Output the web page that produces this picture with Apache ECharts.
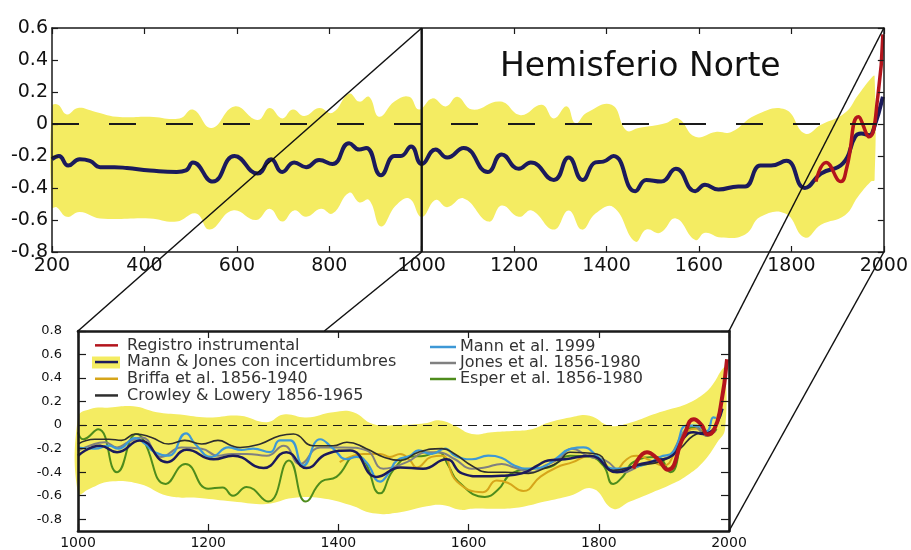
<!DOCTYPE html>
<html><head><meta charset="utf-8">
<script src="https://cdn.jsdelivr.net/npm/echarts@6/dist/echarts.min.js"></script>
<style>html,body{margin:0;padding:0;background:#fff}#c{width:911px;height:550px}</style>
</head><body><div id="c"></div>
<script>
// ---------- DATA ----------
const titleText = 'Hemisferio Norte';
const yTicksBottom = [-0.8, -0.6, -0.4, -0.2, 0, 0.2, 0.4, 0.6, 0.8];

// Top panel (200-2000): Mann & Jones reconstruction
const mjTopYears = [200,215,235,260,282,304,335,362,412,470,490,505,548,595,645,674,698,724,750,778,807,843,865,880,912,941,955,977,1000,1030,1055,1091,1143,1173,1210,1236,1286,1318,1348,1376,1393,1415,1462,1486,1518,1550,1592,1613,1642,1685,1700,1733,1756,1789,1829,1864,1912,1938,1951,1969,1977,1998];
const mjTopVals  = [-0.22,-0.20,-0.26,-0.22,-0.23,-0.27,-0.27,-0.275,-0.29,-0.30,-0.29,-0.24,-0.36,-0.20,-0.31,-0.22,-0.30,-0.24,-0.27,-0.225,-0.25,-0.12,-0.16,-0.15,-0.32,-0.20,-0.20,-0.14,-0.25,-0.16,-0.21,-0.15,-0.30,-0.19,-0.28,-0.24,-0.35,-0.21,-0.35,-0.24,-0.235,-0.20,-0.42,-0.35,-0.36,-0.28,-0.42,-0.38,-0.41,-0.39,-0.39,-0.26,-0.26,-0.23,-0.40,-0.31,-0.245,-0.08,-0.06,-0.07,-0.04,0.17];
const instTopYears = [1853,1875,1907,1920,1945,1968,1987,1998];
const instTopVals  = [-0.36,-0.24,-0.36,-0.27,0.045,-0.08,0.17,0.56];
const bandTopUpYears = [200,213,232,256,289,340,412,476,505,545,595,645,671,698,721,746,778,807,843,865,886,908,941,973,994,1023,1052,1077,1109,1171,1214,1260,1286,1314,1333,1357,1411,1443,1469,1527,1555,1592,1636,1670,1722,1787,1829,1864,1916,1944,1972,1980];
const bandTopUpVals  = [0.11,0.12,0.06,0.10,0.08,0.045,0.045,0.035,0.09,-0.025,0.11,0.025,0.10,0.035,0.09,0.05,0.10,0.07,0.19,0.14,0.17,0.045,0.14,0.17,0.09,0.16,0.11,0.17,0.09,0.14,0.055,0.12,0.035,0.11,0.005,0.07,0.12,-0.04,-0.025,0.005,0.035,-0.08,-0.05,-0.05,0.055,0.09,-0.06,-0.005,0.07,0.18,0.285,0.30];
const bandTopLoYears = [200,210,232,260,304,412,470,512,541,591,642,671,698,724,750,782,807,843,865,886,912,944,973,1000,1030,1055,1091,1145,1173,1210,1238,1286,1318,1347,1376,1415,1462,1486,1516,1550,1592,1613,1648,1700,1733,1787,1829,1864,1916,1944,1972,1980];
const bandTopLoVals  = [-0.52,-0.52,-0.58,-0.55,-0.59,-0.59,-0.61,-0.56,-0.66,-0.54,-0.60,-0.53,-0.61,-0.54,-0.58,-0.53,-0.56,-0.43,-0.49,-0.475,-0.64,-0.51,-0.465,-0.58,-0.475,-0.52,-0.465,-0.61,-0.51,-0.58,-0.54,-0.66,-0.54,-0.66,-0.56,-0.52,-0.735,-0.66,-0.68,-0.59,-0.725,-0.68,-0.71,-0.69,-0.58,-0.56,-0.71,-0.63,-0.57,-0.455,-0.36,-0.35];

// Bottom panel (1000-2000)
const bandBotUpYears = [1000,1018,1049,1085,1121,1157,1198,1249,1290,1316,1351,1392,1423,1453,1495,1533,1556,1579,1605,1636,1667,1697,1722,1756,1786,1817,1848,1883,1909,1935,1960,1975,1989,1994];
const bandBotUpVals  = [0.065,0.135,0.15,0.16,0.11,0.09,0.065,0.08,0.025,0.09,0.065,0.11,0.11,0.01,0.0,0.015,0.04,-0.005,-0.075,-0.06,-0.05,-0.035,0.02,0.065,0.08,-0.005,0.02,0.09,0.135,0.18,0.26,0.345,0.47,0.49];
const bandBotLoYears = [1000,1018,1049,1095,1137,1187,1238,1290,1330,1372,1418,1453,1495,1536,1560,1587,1605,1651,1682,1717,1756,1791,1822,1848,1883,1909,1935,1960,1982,1994];
const bandBotLoVals  = [-0.58,-0.54,-0.48,-0.50,-0.60,-0.62,-0.65,-0.67,-0.62,-0.62,-0.68,-0.75,-0.74,-0.69,-0.68,-0.72,-0.71,-0.71,-0.695,-0.65,-0.60,-0.54,-0.71,-0.65,-0.57,-0.51,-0.43,-0.315,-0.145,-0.03];

const mjBotYears = [1000,1034,1060,1095,1137,1167,1208,1238,1285,1320,1351,1382,1418,1459,1495,1530,1566,1590,1620,1651,1682,1707,1722,1748,1786,1828,1858,1889,1914,1929,1945,1960,1971,1982,1990];
const mjBotVals  = [-0.26,-0.175,-0.23,-0.13,-0.315,-0.21,-0.29,-0.26,-0.365,-0.23,-0.365,-0.245,-0.215,-0.44,-0.36,-0.37,-0.29,-0.41,-0.435,-0.43,-0.41,-0.34,-0.30,-0.29,-0.26,-0.40,-0.34,-0.30,-0.255,-0.12,-0.06,-0.075,-0.06,0.02,0.14];
const mannYears = [1000,1026,1047,1062,1088,1103,1118,1139,1166,1180,1205,1231,1251,1269,1295,1310,1326,1346,1372,1392,1413,1428,1443,1464,1477,1490,1510,1523,1543,1564,1579,1605,1630,1651,1671,1692,1712,1733,1758,1776,1797,1822,1848,1874,1894,1914,1935,1950,1966,1976,1980];
const mannVals  = [-0.19,-0.20,-0.175,-0.20,-0.11,-0.16,-0.23,-0.26,-0.07,-0.16,-0.27,-0.19,-0.21,-0.20,-0.23,-0.13,-0.13,-0.345,-0.12,-0.20,-0.29,-0.27,-0.315,-0.48,-0.41,-0.30,-0.26,-0.215,-0.245,-0.20,-0.26,-0.29,-0.26,-0.28,-0.345,-0.37,-0.36,-0.29,-0.20,-0.19,-0.26,-0.37,-0.36,-0.33,-0.27,-0.23,-0.005,-0.005,-0.05,0.065,0.06];
const jonesYears = [1000,1020,1041,1060,1077,1098,1128,1159,1190,1215,1236,1259,1290,1316,1341,1372,1408,1443,1469,1505,1536,1553,1579,1605,1625,1651,1670,1697,1717,1738,1758,1786,1810,1838,1863,1889,1909,1930,1945,1966,1976,1980];
const jonesVals  = [-0.22,-0.17,-0.145,-0.19,-0.145,-0.105,-0.27,-0.19,-0.20,-0.26,-0.245,-0.245,-0.26,-0.175,-0.33,-0.19,-0.19,-0.215,-0.37,-0.315,-0.23,-0.23,-0.29,-0.37,-0.36,-0.33,-0.36,-0.40,-0.345,-0.29,-0.20,-0.27,-0.30,-0.40,-0.345,-0.30,-0.26,-0.06,-0.005,-0.09,-0.06,-0.05];
const crowleyYears = [1000,1026,1047,1067,1088,1113,1139,1164,1190,1215,1236,1249,1280,1310,1331,1361,1392,1413,1443,1469,1495,1523,1559,1580,1605,1630,1656,1692,1715,1738,1756,1797,1822,1858,1899,1925,1945,1965];
const crowleyVals  = [-0.16,-0.12,-0.12,-0.13,-0.075,-0.105,-0.16,-0.13,-0.16,-0.13,-0.175,-0.19,-0.16,-0.09,-0.075,-0.175,-0.175,-0.145,-0.20,-0.27,-0.30,-0.23,-0.20,-0.25,-0.345,-0.40,-0.40,-0.41,-0.37,-0.315,-0.23,-0.245,-0.385,-0.345,-0.30,-0.20,-0.09,-0.06];
const esperYears = [1000,1008,1031,1060,1090,1100,1135,1165,1200,1222,1238,1259,1292,1324,1350,1374,1397,1428,1440,1464,1484,1510,1533,1553,1569,1584,1625,1645,1666,1697,1722,1756,1786,1807,1822,1838,1853,1889,1910,1935,1950,1966,1981];
const esperVals  = [-0.06,-0.12,-0.035,-0.40,-0.075,-0.12,-0.50,-0.33,-0.54,-0.53,-0.60,-0.525,-0.65,-0.30,-0.65,-0.48,-0.44,-0.26,-0.30,-0.58,-0.385,-0.27,-0.26,-0.23,-0.345,-0.48,-0.61,-0.55,-0.41,-0.37,-0.36,-0.26,-0.27,-0.345,-0.50,-0.43,-0.315,-0.27,-0.40,-0.035,-0.02,-0.09,-0.035];
const briffaYears = [1402,1418,1438,1464,1479,1495,1510,1520,1543,1559,1582,1622,1643,1660,1684,1710,1735,1760,1786,1807,1822,1843,1858,1879,1899,1920,1935,1950,1960];
const briffaVals  = [-0.315,-0.27,-0.245,-0.245,-0.27,-0.245,-0.30,-0.36,-0.27,-0.26,-0.48,-0.57,-0.47,-0.49,-0.56,-0.44,-0.36,-0.315,-0.26,-0.315,-0.40,-0.29,-0.26,-0.30,-0.345,-0.20,-0.06,-0.03,-0.08];
const instBotYears = [1853,1874,1889,1906,1930,1946,1958,1967,1977,1987,1997];
const instBotVals  = [-0.37,-0.23,-0.28,-0.38,-0.10,0.05,0.00,-0.08,-0.04,0.15,0.56];

const legendCol1 = ['Registro instrumental','Mann & Jones con incertidumbres','Briffa et al. 1856-1940','Crowley & Lowery 1856-1965'];
const legendCol2 = ['Mann et al. 1999','Jones et al. 1856-1980','Esper et al. 1856-1980'];

// ---------- STYLE ----------
const FONT = 'DejaVu Sans';
const YELLOW = '#f4ec62';
const NAVY = '#1b1a5c';
const RED = '#b3141c';
const C = {blue:'#3d98d6', gray:'#808080', green:'#4e8c1c', gold:'#d6a51a', dark:'#2e2e2e'};

const pairs = (xs, ys) => xs.map((x, i) => [x, ys[i]]);
const fmt = v => { const r = Math.round(v * 10) / 10; return r === 0 ? '0' : String(r); };
const fmtYear = v => String(Math.round(v));

function band(upX, upY, loX, loY) {
  return function (params, api) {
    const pts = [];
    for (let i = 0; i < upX.length; i++) pts.push(api.coord([upX[i], upY[i]]));
    for (let i = loX.length - 1; i >= 0; i--) pts.push(api.coord([loX[i], loY[i]]));
    return {type: 'polygon', shape: {points: pts, smooth: 0.45}, style: {fill: YELLOW}, silent: true};
  };
}

function xAx(grid, min, max, pos, showLabel, fs, lw, tl) {
  return {type: 'value', gridIndex: grid, min: min, max: max, interval: 200, position: pos, z: 5,
    axisLine: {onZero: false, lineStyle: {color: '#1a1a1a', width: lw}},
    axisTick: {inside: true, length: tl, lineStyle: {color: '#1a1a1a', width: 1.2}},
    axisLabel: {show: showLabel, fontFamily: FONT, fontSize: fs, color: '#111', margin: 5, formatter: fmtYear},
    splitLine: {show: false}};
}

const chart = echarts.init(document.getElementById('c'), null, {renderer: 'canvas'});

const lineS = (name, xs, ys, color, w, xi, yi, extra) => Object.assign({
  name: name, type: 'line', xAxisIndex: xi, yAxisIndex: yi, data: pairs(xs, ys),
  smooth: 0.5, showSymbol: false, symbol: 'none', silent: true,
  lineStyle: {color: color, width: w}, itemStyle: {color: color}
}, extra || {});

const option = {
  animation: false,
  backgroundColor: '#fff',
  title: {text: titleText, left: 500, top: 51, padding: 0,
    textStyle: {fontFamily: FONT, fontSize: 33, fontWeight: 'normal', color: '#111'}},
  grid: [
    {left: 52, top: 28, width: 834, height: 224},
    {left: 78, top: 331, width: 651, height: 202}
  ],
  xAxis: [
    xAx(0, 200, 2000, 'bottom', true, 19, 1.5, 6),
    xAx(0, 200, 2000, 'top', false, 19, 1.5, 6),
    xAx(1, 1000, 2000, 'bottom', true, 14, 2.6, 7),
    xAx(1, 1000, 2000, 'top', false, 14, 2.6, 7)
  ],
  yAxis: [
    {type: 'value', gridIndex: 0, min: -0.8, max: 0.6, interval: 0.2, position: 'left', z: 5,
      axisLine: {onZero: false, lineStyle: {color: '#1a1a1a', width: 1.5}},
      axisTick: {inside: true, length: 6, lineStyle: {color: '#1a1a1a', width: 1.2}},
      axisLabel: {fontFamily: FONT, fontSize: 19, color: '#111', margin: 4, formatter: fmt},
      splitLine: {show: false}},
    {type: 'value', gridIndex: 0, min: -0.8, max: 0.6, interval: 0.2, position: 'right', z: 5,
      axisLine: {onZero: false, lineStyle: {color: '#1a1a1a', width: 1.5}},
      axisTick: {inside: true, length: 6, lineStyle: {color: '#1a1a1a', width: 1.2}},
      axisLabel: {show: false}, splitLine: {show: false}},
    {type: 'value', gridIndex: 1, min: -0.9, max: 0.8, position: 'left', z: 5,
      axisLine: {onZero: false, lineStyle: {color: '#1a1a1a', width: 2.6}},
      axisTick: {inside: true, length: 8, customValues: yTicksBottom, lineStyle: {color: '#1a1a1a', width: 1.2}},
      axisLabel: {fontFamily: FONT, fontSize: 13, color: '#111', margin: 16, customValues: yTicksBottom, formatter: fmt},
      splitLine: {show: false}},
    {type: 'value', gridIndex: 1, min: -0.9, max: 0.8, position: 'right', z: 5,
      axisLine: {onZero: false, lineStyle: {color: '#1a1a1a', width: 2.6}},
      axisTick: {inside: true, length: 8, customValues: yTicksBottom, lineStyle: {color: '#1a1a1a', width: 1.2}},
      axisLabel: {show: false}, splitLine: {show: false}}
  ],
  legend: [
    {data: legendCol1.map((n, i) => ({name: n, icon: 'rect', itemStyle: {color: [RED, NAVY, C.gold, C.dark][i]}})),
      left: 95, top: 337, padding: 0, orient: 'vertical', itemWidth: 23, itemHeight: 2.5, itemGap: 0, selectedMode: false,
      textStyle: {fontFamily: FONT, fontSize: 16, color: '#333', lineHeight: 16.7, padding: [0, 0, 0, 4]}},
    {data: legendCol2.map((n, i) => ({name: n, icon: 'rect', itemStyle: {color: [C.blue, C.gray, C.green][i]}})),
      left: 430, top: 339, padding: 0, orient: 'vertical', itemWidth: 26, itemHeight: 2.5, itemGap: 0, selectedMode: false,
      textStyle: {fontFamily: FONT, fontSize: 16, color: '#333', lineHeight: 14.5, padding: [0, 0, 0, -1]}}
  ],
  series: [
    {type: 'custom', name: 'bandTop', xAxisIndex: 0, yAxisIndex: 0, silent: true, z: 1,
      data: [[bandTopUpYears[0], bandTopUpVals[0]]], renderItem: band(bandTopUpYears, bandTopUpVals, bandTopLoYears, bandTopLoVals)},
    lineS('zeroTop', [], [], '#222', 0, 0, 0, {z: 2,
      markLine: {silent: true, symbol: 'none', label: {show: false}, animation: false,
        lineStyle: {color: '#1a1a1a', width: 2, type: [27, 30]}, data: [{yAxis: 0}]}}),
    lineS('Mann & Jones HN', mjTopYears, mjTopVals, NAVY, 4, 0, 0, {z: 3}),
    lineS('Registro HN', instTopYears, instTopVals, RED, 3.5, 0, 0, {z: 3}),

    {type: 'custom', name: 'bandBot', xAxisIndex: 2, yAxisIndex: 2, silent: true, z: 1,
      data: [[bandBotUpYears[0], bandBotUpVals[0]]], renderItem: band(bandBotUpYears, bandBotUpVals, bandBotLoYears, bandBotLoVals)},
    lineS('zeroBot', [], [], '#222', 0, 2, 2, {z: 2,
      markLine: {silent: true, symbol: 'none', label: {show: false}, animation: false,
        lineStyle: {color: '#1a1a1a', width: 1.2, type: [9, 6]}, data: [{yAxis: 0}]}}),
    lineS('Esper et al. 1856-1980', esperYears, esperVals, C.green, 2, 2, 2, {z: 3}),
    lineS('Briffa et al. 1856-1940', briffaYears, briffaVals, C.gold, 2, 2, 2, {z: 3}),
    lineS('Jones et al. 1856-1980', jonesYears, jonesVals, C.gray, 2, 2, 2, {z: 3}),
    lineS('Mann et al. 1999', mannYears, mannVals, C.blue, 2.2, 2, 2, {z: 3}),
    lineS('Crowley & Lowery 1856-1965', crowleyYears, crowleyVals, C.dark, 1.6, 2, 2, {z: 3}),
    lineS('Mann & Jones con incertidumbres', mjBotYears, mjBotVals, NAVY, 2.5, 2, 2, {z: 4}),
    lineS('Registro instrumental', instBotYears, instBotVals, RED, 4, 2, 2, {z: 4})
  ]
};
chart.setOption(option);

// Perspective box lines linking the zoomed window (1000-2000) to the lower panel
const P = (xi, yi, v) => chart.convertToPixel({xAxisIndex: xi, yAxisIndex: yi}, v);
const A = P(0, 0, [1000, 0.6]), B = P(0, 0, [1000, -0.8]);
const Cc = P(0, 0, [2000, 0.6]), D = P(0, 0, [2000, -0.8]);
const A2 = P(2, 2, [1000, 0.8]), B2 = P(2, 2, [1000, -0.9]);
const C2 = P(2, 2, [2000, 0.8]), D2 = P(2, 2, [2000, -0.9]);
// clip B->B2 where it enters the lower panel (hidden behind it)
const tClip = (A2[1] - B[1]) / (B2[1] - B[1]);
const Bc = [B[0] + (B2[0] - B[0]) * tClip, A2[1]];
const seg = (p, q, w) => ({type: 'line', z: 10, silent: true,
  shape: {x1: p[0], y1: p[1], x2: q[0], y2: q[1]}, style: {stroke: '#111', lineWidth: w}});
chart.setOption({graphic: [
  seg(A, B, 2.4),
  seg(A, A2, 1.5), seg(B, Bc, 1.5), seg(Cc, C2, 1.5), seg(D, D2, 1.5),
  {type: 'rect', z: 3, silent: true, shape: {x: 92, y: 356.5, width: 28, height: 12}, style: {fill: YELLOW}}
]});
</script>
</body></html>
